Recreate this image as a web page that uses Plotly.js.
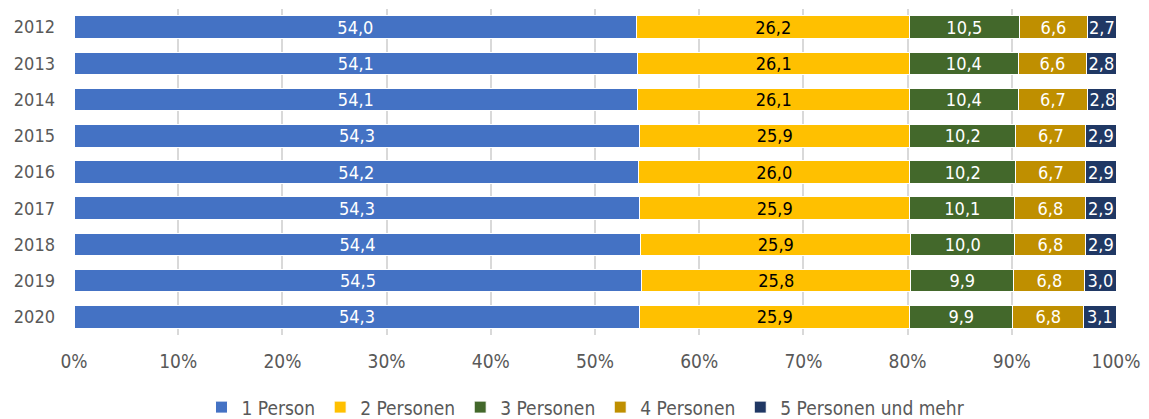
<!DOCTYPE html>
<html><head><meta charset="utf-8">
<script src="https://cdn.plot.ly/plotly-3.0.1.min.js"></script>
<style>html,body{margin:0;padding:0;background:#fff} svg text{font-stretch:condensed !important;}</style>
</head><body><div id="chart" style="width:1149px;height:419px"></div>
<script>
const years = ['2012','2013','2014','2015','2016','2017','2018','2019','2020'];
const seriesNames = ['1 Person','2 Personen','3 Personen','4 Personen','5 Personen und mehr'];
const p1 = [54.0,54.1,54.1,54.3,54.2,54.3,54.4,54.5,54.3];
const p2 = [26.2,26.1,26.1,25.9,26.0,25.9,25.9,25.8,25.9];
const p3 = [10.5,10.4,10.4,10.2,10.2,10.1,10.0,9.9,9.9];
const p4 = [6.6,6.6,6.7,6.7,6.7,6.8,6.8,6.8,6.8];
const p5 = [2.7,2.8,2.8,2.9,2.9,2.9,2.9,3.0,3.1];
const xTicks = [0,10,20,30,40,50,60,70,80,90,100];
const xTickLabels = ['0%','10%','20%','30%','40%','50%','60%','70%','80%','90%','100%'];

const colors = ['#4472C4','#FFC000','#43682B','#BF8F00','#203864'];
const textColors = ['#ffffff','#000000','#ffffff','#ffffff','#ffffff'];
const FONT = '"DejaVu Sans", sans-serif';
const vals = [p1,p2,p3,p4,p5];

const traces = vals.map((v,i)=>({
  type:'bar', orientation:'h', name:seriesNames[i],
  x:v, y:years,
  marker:{color:colors[i], line:{color:'#ffffff', width:1}},
  texttemplate:'%{x:.1f}', textposition:'inside', insidetextanchor:'middle',
  textfont:{family:FONT, size:18, color:textColors[i]},
  constraintext:'none', hoverinfo:'skip'
}));

const layout = {
  width:1149, height:419,
  margin:{l:74, r:33, t:9, b:84, autoexpand:false},
  barmode:'stack', bargap:0.38,
  separators:', ',
  paper_bgcolor:'#fff', plot_bgcolor:'#fff',
  font:{family:FONT, size:18, color:'#595959'},
  uniformtext:{mode:'show', minsize:18},
  xaxis:{range:[0,100], tickmode:'array', tickvals:xTicks, ticktext:xTickLabels, showgrid:true, gridcolor:'#d9d9d9', gridwidth:2,
         zeroline:false, showline:false, ticks:'', tickfont:{family:FONT,size:19,color:'#595959'}, ticklabelstandoff:13, fixedrange:true},
  yaxis:{categoryorder:'array', categoryarray:years, tickmode:'array', tickvals:years, ticktext:years, autorange:'reversed', showgrid:false, zeroline:false,
         ticks:'', tickfont:{family:FONT,size:18,color:'#595959'}, ticklabelstandoff:18},
  legend:{orientation:'h', x:0.51, xanchor:'center', xref:'container', y:0.028, yanchor:'middle', yref:'container',
          font:{family:FONT,size:19,color:'#595959'}, itemwidth:30, tracegroupgap:0, traceorder:'normal'},
  showlegend:true
};
Plotly.newPlot('chart', traces, layout, {displayModeBar:false, staticPlot:true});
</script></body></html>
